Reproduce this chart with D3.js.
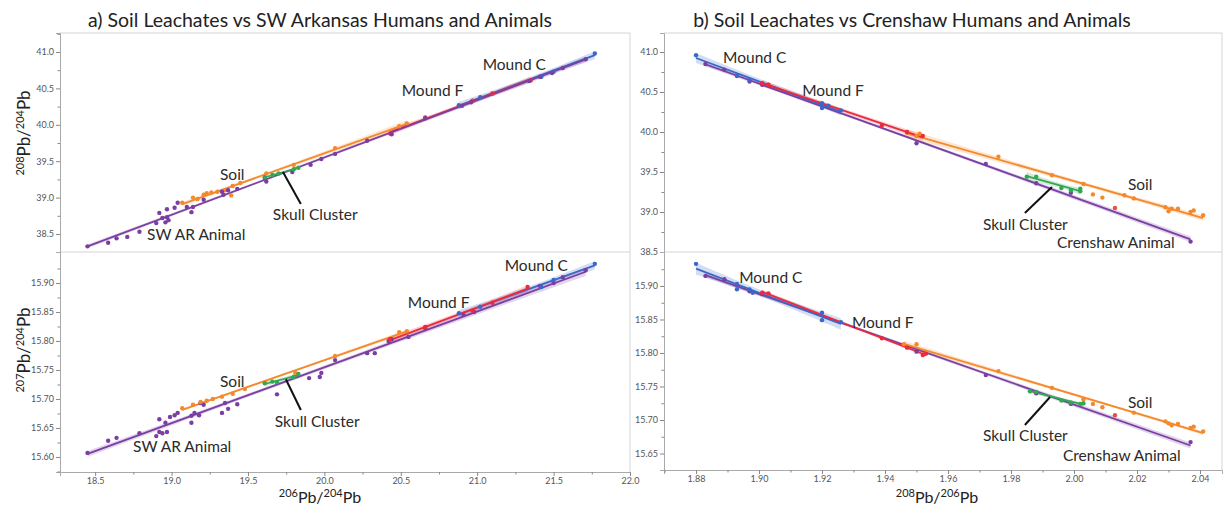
<!DOCTYPE html>
<html>
<head>
<meta charset="utf-8">
<script src="https://cdn.jsdelivr.net/npm/d3@7"></script>
<style>
  body { margin: 0; background: #fff; }
  svg { display: block; }
  text { font-family: Lato, "Open Sans", sans-serif; }
</style>
</head>
<body>
<script>
// ---- data: panel a (x = 206Pb/204Pb) ----
var aTopSoil = [[19.07,38.93],[19.14,39.00],[19.17,38.98],[19.21,39.04],[19.23,39.06],[19.26,39.07],[19.30,39.08],[19.35,39.10],[19.39,39.03],[19.40,39.16],[19.45,39.20],[19.62,39.33],[19.80,39.45],[20.07,39.68],[20.49,39.98],[20.54,40.02]];
var aTopAnimal = [[18.45,38.33],[18.585,38.38],[18.64,38.44],[18.71,38.46],[18.79,38.53],[18.90,38.65],[18.92,38.79],[18.94,38.72],[18.96,38.66],[18.97,38.84],[18.97,38.73],[18.98,38.69],[19.02,38.86],[19.04,38.93],[19.10,38.87],[19.13,38.80],[19.14,38.87],[19.21,38.97],[19.33,39.08],[19.34,39.04],[19.37,39.10],[19.43,39.12],[19.61,39.27],[19.62,39.22],[19.79,39.35],[19.91,39.45],[19.98,39.53],[20.07,39.60],[20.28,39.78],[20.44,39.87],[20.66,40.09],[20.90,40.26],[20.96,40.31],[21.34,40.60],[21.41,40.66],[21.49,40.71],[21.56,40.78],[21.71,40.90]];
var aTopMoundC = [[20.88,40.27],[21.02,40.38],[21.42,40.66],[21.50,40.73],[21.77,40.98]];
var aTopMoundF = [[20.43,39.88],[20.66,40.10],[20.97,40.33],[21.10,40.43],[21.35,40.61]];
var aTopSkull = [[19.61,39.28],[19.66,39.31],[19.70,39.33],[19.80,39.39],[19.83,39.41]];

var aBotSoil = [[19.07,15.684],[19.14,15.690],[19.19,15.695],[19.23,15.697],[19.27,15.700],[19.33,15.704],[19.40,15.709],[19.48,15.717],[19.61,15.728],[19.81,15.745],[20.07,15.774],[20.49,15.815],[20.54,15.817]];
var aBotAnimal = [[18.45,15.607],[18.585,15.628],[18.64,15.633],[18.79,15.641],[18.90,15.636],[18.92,15.643],[18.94,15.641],[18.97,15.643],[18.92,15.665],[18.96,15.659],[18.99,15.669],[19.02,15.672],[19.04,15.676],[19.13,15.671],[19.13,15.659],[19.15,15.676],[19.18,15.672],[19.19,15.693],[19.21,15.690],[19.33,15.676],[19.35,15.693],[19.37,15.683],[19.43,15.691],[19.69,15.708],[19.90,15.736],[19.97,15.738],[19.98,15.745],[20.07,15.767],[20.28,15.779],[20.33,15.779],[20.42,15.800],[20.44,15.803],[20.55,15.807],[20.66,15.822],[20.91,15.845],[20.98,15.850],[21.41,15.895],[21.50,15.900],[21.56,15.910],[21.71,15.922]];
var aBotMoundC = [[20.88,15.848],[21.02,15.859],[21.42,15.893],[21.50,15.905],[21.77,15.933]];
var aBotMoundF = [[20.43,15.803],[20.66,15.824],[20.97,15.852],[21.10,15.866],[21.33,15.893]];
var aBotSkull = [[19.61,15.727],[19.66,15.730],[19.69,15.729],[19.80,15.738],[19.83,15.743]];

// ---- data: panel b (x = 208Pb/206Pb) ----
var bTopSoil = [[1.947,39.99],[1.950,39.95],[1.951,39.98],[1.976,39.69],[1.993,39.46],[2.003,39.35],[2.006,39.22],[2.009,39.18],[2.016,39.21],[2.019,39.17],[2.029,39.06],[2.030,39.01],[2.031,39.04],[2.033,39.04],[2.037,39.00],[2.038,39.02],[2.041,38.96]];
var bTopAnimal = [[1.883,40.85],[1.889,40.78],[1.893,40.70],[1.897,40.63],[1.901,40.59],[1.950,39.86],[1.972,39.60],[1.988,39.36],[1.999,39.24],[2.037,38.63]];
var bTopMoundC = [[1.880,40.96],[1.893,40.71],[1.897,40.65],[1.920,40.36],[1.922,40.33],[1.920,40.30],[1.926,40.27]];
var bTopMoundF = [[1.901,40.61],[1.903,40.59],[1.939,40.08],[1.947,40.00],[1.952,39.95]];
var bTopSkull = [[1.985,39.44],[1.988,39.44],[1.996,39.30],[1.999,39.27],[2.002,39.26],[2.002,39.29]];
var bTopOther = [[2.013,39.05]];

var bBotSoil = [[1.946,15.813],[1.950,15.813],[1.976,15.773],[1.993,15.748],[2.003,15.731],[2.006,15.724],[2.009,15.719],[2.019,15.711],[2.029,15.698],[2.030,15.695],[2.031,15.692],[2.033,15.694],[2.037,15.688],[2.038,15.690],[2.041,15.683]];
var bBotAnimal = [[1.883,15.915],[1.889,15.910],[1.893,15.901],[1.897,15.892],[1.901,15.888],[1.950,15.802],[1.972,15.767],[1.988,15.740],[1.999,15.724],[2.037,15.667]];
var bBotMoundC = [[1.880,15.933],[1.893,15.895],[1.893,15.903],[1.897,15.895],[1.898,15.890],[1.920,15.860],[1.920,15.849],[1.926,15.846]];
var bBotMoundF = [[1.901,15.890],[1.903,15.889],[1.939,15.822],[1.947,15.808],[1.952,15.797],[1.953,15.799]];
var bBotSkull = [[1.986,15.743],[1.988,15.742],[1.996,15.729],[1.999,15.726],[2.002,15.724],[2.003,15.725]];
var bBotOther = [[2.013,15.707]];

// tick labels
var aXTicks = [18.5,19.0,19.5,20.0,20.5,21.0,21.5,22.0];
var bXTicks = [1.88,1.90,1.92,1.94,1.96,1.98,2.00,2.02,2.04];
var t208Ticks = [38.5,39.0,39.5,40.0,40.5,41.0];
var aT207Ticks = [15.60,15.65,15.70,15.75,15.80,15.85,15.90];
var bT207Ticks = [15.65,15.70,15.75,15.80,15.85,15.90];

const W = 1225, H = 505;
const col = {soil:"#f4892b", animal:"#7b3fa2", skull:"#33a853", moundC:"#3a68c8", moundF:"#ec2a3c", other:"#e8503a"};

const svg = d3.select("body").append("svg").attr("width", W).attr("height", H);

// least squares fit with 95% band of the mean
function fitLine(pts) {
  var n = pts.length;
  var xm = d3.mean(pts, d => d[0]), ym = d3.mean(pts, d => d[1]);
  var sxx = d3.sum(pts, d => (d[0]-xm)*(d[0]-xm));
  var sxy = d3.sum(pts, d => (d[0]-xm)*(d[1]-ym));
  var b = sxy / sxx, a = ym - b*xm;
  var sse = d3.sum(pts, d => Math.pow(d[1] - (a + b*d[0]), 2));
  var df = Math.max(n-2, 1);
  var s = Math.sqrt(sse/df);
  var t = 1.96 + 2.5/df + 3/(df*df);
  return {
    y: x => a + b*x,
    hw: x => t*s*Math.sqrt(1/n + (x-xm)*(x-xm)/sxx),
    ext: d3.extent(pts, d => d[0])
  };
}

function drawPlot(p) {
  var g = svg.append("g");
  var x = p.x, y = p.y;
  var id = "clip" + p.name;
  svg.append("clipPath").attr("id", id).append("rect")
    .attr("x", x.range()[0]).attr("y", y.range()[1])
    .attr("width", x.range()[1]-x.range()[0]).attr("height", y.range()[0]-y.range()[1]);
  var pg = g.append("g").attr("clip-path", "url(#" + id + ")");

  var fits = p.series.filter(s => s.fit).map(s => ({s: s, f: fitLine(s.pts)}));
  // bands
  fits.forEach(function(o) {
    var xs = d3.range(0, 41).map(i => o.f.ext[0] + (o.f.ext[1]-o.f.ext[0])*i/40);
    var area = d3.area().x(d => x(d)).y0(d => y(o.f.y(d) - o.f.hw(d))).y1(d => y(o.f.y(d) + o.f.hw(d)));
    pg.append("path").attr("d", area(xs)).attr("fill", o.s.color).attr("opacity", 0.22);
  });
  // lines
  fits.forEach(function(o) {
    pg.append("line")
      .attr("x1", x(o.f.ext[0])).attr("y1", y(o.f.y(o.f.ext[0])))
      .attr("x2", x(o.f.ext[1])).attr("y2", y(o.f.y(o.f.ext[1])))
      .attr("stroke", o.s.color).attr("stroke-width", 1.8);
  });
  // points
  p.series.forEach(function(s) {
    pg.selectAll(null).data(s.pts).enter().append("circle")
      .attr("cx", d => x(d[0])).attr("cy", d => y(d[1])).attr("r", 2.2)
      .attr("fill", s.color);
  });

  // y axis
  var ya = g.append("g").attr("transform", "translate(" + x.range()[0] + ",0)")
    .call(d3.axisLeft(y).tickValues(p.yTicks).tickSize(4).tickFormat(d3.format(p.yFmt)));
  var step = p.yTicks[1]-p.yTicks[0];
  var minor = d3.range(p.yTicks[0]-step/2, p.yTicks[p.yTicks.length-1]+step, step)
    .filter(v => v >= y.domain()[0] && v <= y.domain()[1]);
  g.append("g").attr("transform", "translate(" + x.range()[0] + ",0)")
    .call(d3.axisLeft(y).tickValues(minor).tickSize(2.5).tickFormat(""))
    .select(".domain").remove();
  g.selectAll(".tick line").attr("stroke", "#888");
  ya.select(".domain").attr("stroke", "#aaa");
  ya.selectAll("text").attr("font-size", 9).attr("fill", "#555").attr("x", -6);

  if (p.xTicks) {
    var xa = g.append("g").attr("transform", "translate(0," + y.range()[0] + ")")
      .call(d3.axisBottom(x).tickValues(p.xTicks).tickSize(4).tickFormat(d3.format(p.xFmt)));
    var xs = p.xTicks[1]-p.xTicks[0];
    var xminor = d3.range(p.xTicks[0]-xs/2, p.xTicks[p.xTicks.length-1]+xs, xs)
      .filter(v => v >= x.domain()[0] && v <= x.domain()[1]);
    g.append("g").attr("transform", "translate(0," + y.range()[0] + ")")
      .call(d3.axisBottom(x).tickValues(xminor).tickSize(2.5).tickFormat(""))
      .select(".domain").remove();
    g.selectAll(".tick line").attr("stroke", "#888");
    xa.select(".domain").attr("stroke", "#aaa");
    xa.selectAll("text").attr("font-size", 9).attr("fill", "#555").attr("y", 6);
  }

  // annotations
  p.labels.forEach(function(l) {
    g.append("text").attr("x", x(l.x)).attr("y", y(l.y)).text(l.t)
      .attr("font-size", 15.5).attr("fill", "#2a2a2a");
  });
  g.append("line")
    .attr("x1", x(p.pointer[0][0])).attr("y1", y(p.pointer[0][1]))
    .attr("x2", x(p.pointer[1][0])).attr("y2", y(p.pointer[1][1]))
    .attr("stroke", "#111").attr("stroke-width", 2);
}

// order decides which fit line is drawn on top
function series(order, soil, animal, skull, mC, mF, other) {
  var all = {
    animal: {color: col.animal, pts: animal, fit: true},
    soil: {color: col.soil, pts: soil, fit: true},
    moundC: {color: col.moundC, pts: mC, fit: true},
    moundF: {color: col.moundF, pts: mF, fit: true},
    skull: {color: col.skull, pts: skull, fit: true}
  };
  var s = order.map(k => all[k]);
  if (other) s.push({color: col.other, pts: other, fit: false});
  return s;
}
var orderA = ["soil", "moundC", "moundF", "animal", "skull"];
var orderB = ["animal", "soil", "moundC", "moundF", "skull"];

var xA = d3.scaleLinear().domain([18.27, 22.0]).range([60, 630]);
var xB = d3.scaleLinear().domain([1.86984, 2.04698]).range([664, 1222]);
var yAT = d3.scaleLinear().domain([38.2527, 41.261]).range([252, 33]);
var yAB = d3.scaleLinear().domain([15.5741, 15.9534]).range([472, 252]);
var yBT = d3.scaleLinear().domain([38.5, 41.2375]).range([252, 33]);
var yBB = d3.scaleLinear().domain([15.6254, 15.9507]).range([470, 252]);

// frames
function frame(x0, x1, yt, ys, yb) {
  var fg = svg.append("g").attr("stroke", "#d4d4d4").attr("stroke-width", 1).attr("fill", "none");
  fg.append("line").attr("x1", x0).attr("x2", x1).attr("y1", yt).attr("y2", yt);
  fg.append("line").attr("x1", x0).attr("x2", x1).attr("y1", ys).attr("y2", ys);
  fg.append("line").attr("x1", x1).attr("x2", x1).attr("y1", yt).attr("y2", yb);
}
frame(60, 630, 33, 252, 472);
frame(664, 1222, 33, 252, 470);

drawPlot({name: "at", x: xA, y: yAT, yTicks: t208Ticks, yFmt: ".1f",
  series: series(orderA, aTopSoil, aTopAnimal, aTopSkull, aTopMoundC, aTopMoundF),
  labels: [{t:"Soil", x:19.317, y:39.242},{t:"Skull Cluster", x:19.663, y:38.692},{t:"SW AR Animal", x:18.84, y:38.418},{t:"Mound F", x:20.506, y:40.396},{t:"Mound C", x:21.036, y:40.753}],
  pointer: [[19.729,39.352],[19.846,38.912]]});
drawPlot({name: "ab", x: xA, y: yAB, yTicks: aT207Ticks, yFmt: ".2f", xTicks: aXTicks, xFmt: ".1f",
  series: series(orderB, aBotSoil, aBotAnimal, aBotSkull, aBotMoundC, aBotMoundF),
  labels: [{t:"Soil", x:19.317, y:15.721},{t:"Skull Cluster", x:19.676, y:15.652},{t:"SW AR Animal", x:18.748, y:15.609},{t:"Mound F", x:20.546, y:15.857},{t:"Mound C", x:21.18, y:15.921}],
  pointer: [[19.748,15.734],[19.846,15.681]]});
drawPlot({name: "bt", x: xB, y: yBT, yTicks: t208Ticks, yFmt: ".1f",
  series: series(orderB, bTopSoil, bTopAnimal, bTopSkull, bTopMoundC, bTopMoundF, bTopOther),
  labels: [{t:"Mound C", x:1.8886, y:40.8625},{t:"Mound F", x:1.9137, y:40.45},{t:"Soil", x:2.0171, y:39.275},{t:"Skull Cluster", x:1.9711, y:38.775},{t:"Crenshaw Animal", x:1.9946, y:38.55}],
  pointer: [[1.993,39.3125],[1.9844,38.9875]]});
drawPlot({name: "bb", x: xB, y: yBB, yTicks: bT207Ticks, yFmt: ".2f", xTicks: bXTicks, xFmt: ".2f",
  series: series(orderB, bBotSoil, bBotAnimal, bBotSkull, bBotMoundC, bBotMoundF, bBotOther),
  labels: [{t:"Mound C", x:1.8937, y:15.9045},{t:"Mound F", x:1.9295, y:15.8373},{t:"Soil", x:2.0171, y:15.7179},{t:"Skull Cluster", x:1.9711, y:15.6687},{t:"Crenshaw Animal", x:1.9965, y:15.6388}],
  pointer: [[1.9924,15.7343],[1.9844,15.6925]]});

// titles
svg.append("text").attr("x", 320).attr("y", 27).attr("text-anchor", "middle")
  .attr("font-size", 19.5).attr("fill", "#222").text("a) Soil Leachates vs SW Arkansas Humans and Animals");
svg.append("text").attr("x", 912).attr("y", 27).attr("text-anchor", "middle")
  .attr("font-size", 19.5).attr("fill", "#222").text("b) Soil Leachates vs Crenshaw Humans and Animals");

// axis titles with isotope superscripts
function isoTitle(sel, m1, m2, big) {
  sel.append("tspan").attr("font-size", 11).attr("dy", -6).text(m1);
  sel.append("tspan").attr("font-size", big).attr("dy", 6).text("Pb/");
  sel.append("tspan").attr("font-size", 11).attr("dy", -6).text(m2);
  sel.append("tspan").attr("font-size", big).attr("dy", 6).text("Pb");
}
isoTitle(svg.append("text").attr("text-anchor", "middle").attr("fill", "#222")
  .attr("transform", "translate(30,133) rotate(-90)"), "208", "204", 17);
isoTitle(svg.append("text").attr("text-anchor", "middle").attr("fill", "#222")
  .attr("transform", "translate(30,350) rotate(-90)"), "207", "204", 17);
isoTitle(svg.append("text").attr("text-anchor", "middle").attr("fill", "#222")
  .attr("x", 320).attr("y", 503), "206", "204", 16);
isoTitle(svg.append("text").attr("text-anchor", "middle").attr("fill", "#222")
  .attr("x", 937).attr("y", 503), "208", "206", 16);
</script>
</body>
</html>
